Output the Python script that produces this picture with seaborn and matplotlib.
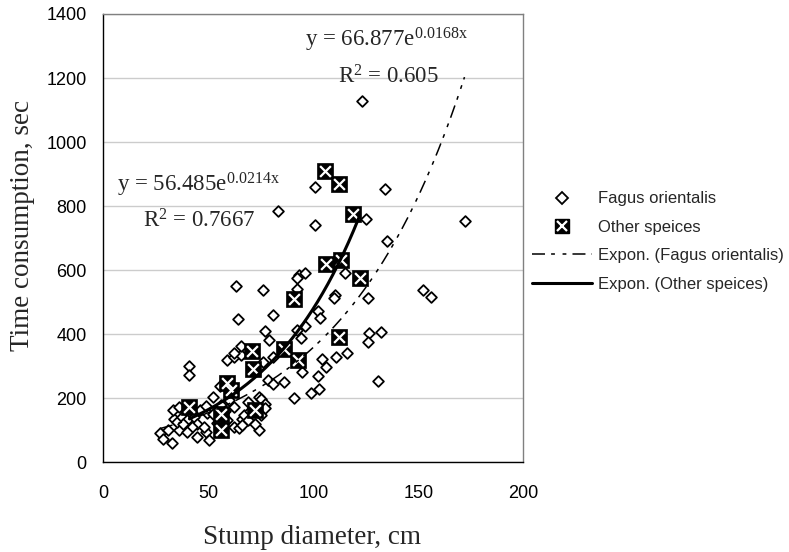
import numpy as np
import pandas as pd
import matplotlib
matplotlib.use("Agg")
import matplotlib.pyplot as plt
import seaborn as sns
from matplotlib.lines import Line2D
from matplotlib.legend_handler import HandlerTuple

# ---------------- data ----------------
fagus_x = [27, 28.5, 32.5, 31, 36, 33.5, 35, 33, 36, 37.5, 40, 43, 44.7, 44.7, 49, 50.5,
           46, 49.5, 49, 48, 52, 52, 54, 55.5, 59, 60, 62, 62, 64.7, 66, 67, 68.7, 69,
           74, 74, 75, 75, 77, 77, 78.5, 81, 86, 91, 99, 102.5, 102, 94.5, 131, 104, 106,
           111, 116, 76, 81, 41, 41, 59, 62, 65.6, 62, 65.6, 92, 94, 96, 77, 79, 126.6,
           132, 126, 64, 81, 102, 103, 63, 76, 92, 110.5, 110, 126, 152, 156, 93, 96, 92,
           115, 83, 101, 125, 172, 135, 123, 101, 134, 38, 42, 40, 56, 58, 70, 72, 66]
fagus_y = [91, 72, 59, 101, 101, 134, 127, 163, 174, 142, 132, 141, 120, 80, 96, 70,
           164, 153, 176, 111, 151, 204, 122, 238, 132, 195, 111, 174, 106, 135, 148, 132, 189,
           101, 205, 148, 197, 182, 169, 257, 245, 252, 200, 215, 229, 268, 282, 253, 323, 299,
           330, 341, 312, 330, 301, 274, 318, 330, 334, 342, 362, 414, 388, 425, 410, 383, 403,
           408, 377, 447, 461, 474, 451, 551, 537, 540, 522, 512, 512, 537, 516, 585, 591, 575,
           592, 785, 740, 760, 755, 690, 1127, 859, 855, 120, 110, 95, 180, 160, 160, 120, 115]

other_x = [41, 56, 56, 59, 61, 71, 71.3, 72, 86, 90.6, 92.7, 105.4, 106, 112, 112, 113.3, 119, 122]
other_y = [173, 152, 100, 248, 225, 348, 290, 162, 355, 510, 319, 910, 619, 869, 391, 633, 774, 576]

# Excel exponential trendline coefficients (as printed on the chart)
fagus_a, fagus_b = 66.877, 0.0168
other_a, other_b = 56.485, 0.0214

x_ticks = [0, 50, 100, 150, 200]
y_ticks = [0, 200, 400, 600, 800, 1000, 1200, 1400]

label_fagus = "Fagus orientalis"
label_other = "Other speices"
label_fexp = "Expon. (Fagus orientalis)"
label_oexp = "Expon. (Other speices)"

# ---------------- style ----------------
sns.set_style("white")
plt.rcParams["font.family"] = ["Liberation Sans", "DejaVu Sans"]
plt.rcParams["mathtext.fontset"] = "custom"
plt.rcParams["mathtext.rm"] = "Liberation Serif"
plt.rcParams["mathtext.it"] = "Liberation Serif:italic"

W, H = 789, 552
fig = plt.figure(figsize=(W / 100, H / 100), dpi=100)
ax = fig.add_axes([103.3 / W, 1 - 462.3 / H, 420 / W, 448.3 / H])

fagus_df = pd.DataFrame({"x": fagus_x, "y": fagus_y})
other_df = pd.DataFrame({"x": other_x, "y": other_y})

fx = np.linspace(min(fagus_x), max(fagus_x), 200)
ox = np.linspace(min(other_x), max(other_x), 200)
fit_f = pd.DataFrame({"x": fx, "y": fagus_a * np.exp(fagus_b * fx)})
fit_o = pd.DataFrame({"x": ox, "y": other_a * np.exp(other_b * ox)})

DASH = (8.5, 4, 2.5, 5, 2.5, 4)

# grid
ax.set_axisbelow(True)
ax.yaxis.grid(True, color="#cccccc", linewidth=1.0)
ax.xaxis.grid(False)

# scatter
sns.scatterplot(data=fagus_df, x="x", y="y", ax=ax, marker="D", s=30,
                facecolor="white", edgecolor="black", linewidth=1.3, zorder=3)
sns.scatterplot(data=other_df, x="x", y="y", ax=ax, marker="s", s=120,
                color="black", edgecolor="black", linewidth=0.5, zorder=4)
sns.scatterplot(data=other_df, x="x", y="y", ax=ax, marker="x", s=60,
                color="white", linewidth=1.6, zorder=5)

# trend lines
sns.lineplot(data=fit_f, x="x", y="y", ax=ax, color="black", linewidth=1.1, zorder=6)
ax.lines[-1].set_dashes(DASH)
sns.lineplot(data=fit_o, x="x", y="y", ax=ax, color="black", linewidth=2.2, zorder=6)

ax.set_xlim(0, 200)
ax.set_ylim(0, 1400)
ax.set_xticks(x_ticks)
ax.set_yticks(y_ticks)
ax.tick_params(axis="both", which="major", direction="out", length=4.5, width=1,
               color="black", labelsize=13, labelcolor="black")
ax.tick_params(axis="y", pad=7.5)
ax.tick_params(axis="x", pad=11.5)

for s in ["left", "bottom"]:
    ax.spines[s].set_color("black")
    ax.spines[s].set_linewidth(1.0)
for s in ["top", "right"]:
    ax.spines[s].set_color("#808080")
    ax.spines[s].set_linewidth(1.0)

ax.set_xlabel("Stump diameter, cm", fontsize=19.5, family="Liberation Serif")
ax.set_ylabel("Time consumption, sec", fontsize=19.5, family="Liberation Serif")
ax.xaxis.set_label_coords(0.498, -0.14)
ax.yaxis.set_label_coords(-0.163, 0.529)

# equations
eq_kw = dict(fontsize=16.5, family="Liberation Serif", va="baseline", ha="left")
fig.text(305 / W, 1 - 46.7 / H, r"y = 66.877e$^{\mathrm{0.0168x}}$", **eq_kw)
fig.text(338.3 / W, 1 - 83.3 / H, r"R$^{\mathrm{2}}$ = 0.605", **eq_kw)
fig.text(117.3 / W, 1 - 191.7 / H, r"y = 56.485e$^{\mathrm{0.0214x}}$", **eq_kw)
fig.text(143.3 / W, 1 - 227.3 / H, r"R$^{\mathrm{2}}$ = 0.7667", **eq_kw)

# legend
h_f = Line2D([], [], marker="D", markersize=6, markerfacecolor="white",
             markeredgecolor="black", markeredgewidth=1.3, linestyle="none")
h_o1 = Line2D([], [], marker="s", markersize=9.5, color="black", linestyle="none")
h_o2 = Line2D([], [], marker="x", markersize=6.5, color="white", markeredgewidth=1.6,
              linestyle="none")
h_fl = Line2D([], [], color="black", linewidth=1.1, dashes=DASH)
h_ol = Line2D([], [], color="black", linewidth=2.2)
leg = fig.legend([h_f, (h_o1, h_o2), h_fl, h_ol],
                 [label_fagus, label_other, label_fexp, label_oexp],
                 handler_map={tuple: HandlerTuple(ndivide=1, pad=0)},
                 loc="center left", bbox_to_anchor=(532 / W, 1 - 241.5 / H),
                 frameon=False, fontsize=12, handlelength=3.6, handletextpad=0.36,
                 labelspacing=0.8, borderpad=0, borderaxespad=0)

fig.savefig("out.png", dpi=100, facecolor="white")
